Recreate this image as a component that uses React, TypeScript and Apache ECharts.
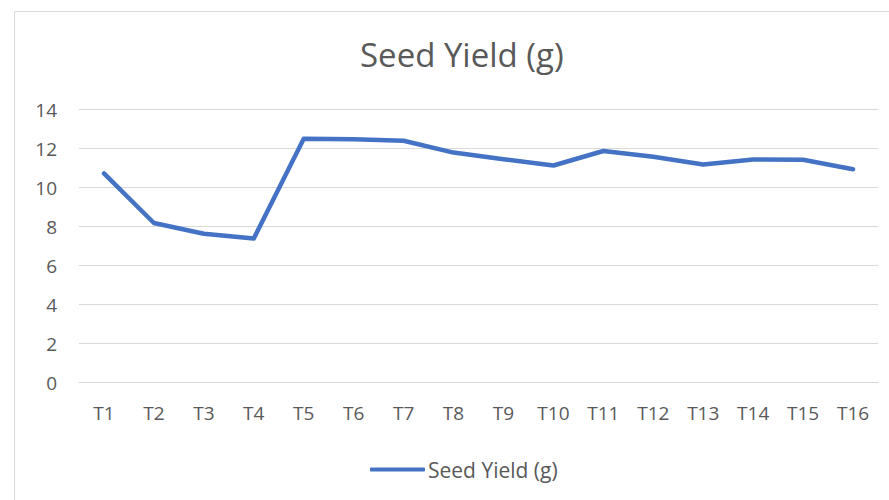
import React, { useEffect, useRef } from "react";
import * as echarts from "echarts";

const categories = ["T1", "T2", "T3", "T4", "T5", "T6", "T7", "T8", "T9", "T10", "T11", "T12", "T13", "T14", "T15", "T16"];
const seedYield = [10.72, 8.18, 7.63, 7.39, 12.5, 12.47, 12.4, 11.79, 11.45, 11.13, 11.87, 11.58, 11.18, 11.44, 11.42, 10.94];
const seriesName = "Seed Yield (g)";
const titleText = "Seed Yield (g)";

export default function App() {
  const ref = useRef<HTMLDivElement>(null);
  useEffect(() => {
    if (!ref.current) return;
    const chart = echarts.init(ref.current, null, { renderer: "svg" });
    const font = "'Open Sans', sans-serif";
    chart.setOption({
      animation: false,
      backgroundColor: "#ffffff",
      title: {
        text: titleText,
        left: 355,
        top: 33,
        textStyle: { fontFamily: font, fontSize: 33, fontWeight: "normal", color: "#595959" },
      },
      graphic: [
        {
          type: "rect",
          shape: { x: 14.5, y: 11.5, width: 900, height: 520 },
          style: { fill: "none", stroke: "#d9d9d9", lineWidth: 1 },
          silent: true,
        },
      ],
      grid: { left: 79, right: 11, top: 109.5, bottom: 117.5, containLabel: false },
      xAxis: {
        type: "category",
        data: categories,
        boundaryGap: true,
        axisLine: { show: true, lineStyle: { color: "#d9d9d9", width: 1 } },
        axisTick: { show: false },
        axisLabel: { fontFamily: font, fontSize: 19, color: "#595959", margin: 21 },
      },
      yAxis: {
        type: "value",
        min: 0,
        max: 14,
        interval: 2,
        axisLine: { show: false },
        axisTick: { show: false },
        axisLabel: { fontFamily: font, fontSize: 19, color: "#595959", margin: 22 },
        splitLine: { lineStyle: { color: "#d9d9d9", width: 1 } },
      },
      legend: {
        show: true,
        top: 454,
        left: 365,
        itemWidth: 55,
        itemHeight: 4,
        itemGap: 10,
        data: [{ name: seriesName, icon: "roundRect" }],
        textStyle: { fontFamily: font, fontSize: 21, color: "#595959", padding: [0, 0, 0, -2] },
      },
      series: [
        {
          name: seriesName,
          type: "line",
          data: seedYield,
          symbol: "none",
          lineStyle: { color: "#4472C4", width: 4.5, cap: "round", join: "round" },
          itemStyle: { color: "#4472C4" },
        },
      ],
    });
    return () => chart.dispose();
  }, []);
  return (
    <div
      ref={ref}
      style={{ position: "fixed", left: 0, top: 0, width: 889, height: 500 }}
    />
  );
}
